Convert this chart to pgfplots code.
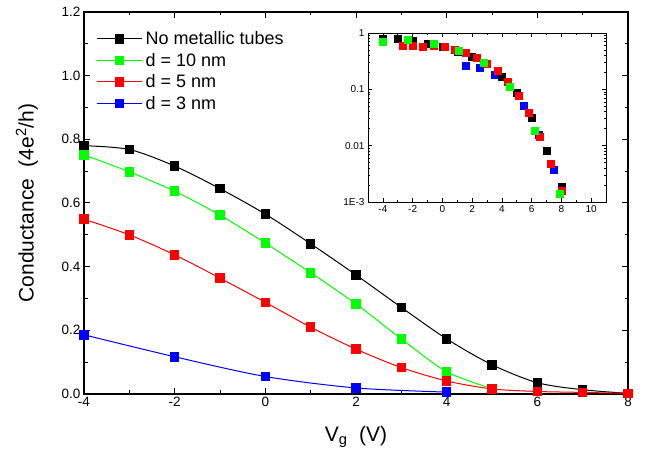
\documentclass[border=0pt]{standalone}
\usepackage{fontspec}
\setmainfont{Liberation Sans}
\usepackage{pgfplots}
\pgfplotsset{compat=1.18}

\begin{document}
\begin{tikzpicture}
\useasboundingbox (0pt,0pt) rectangle (652pt,457pt);
% main panel
\begin{axis}[
  at={(84pt,63pt)}, anchor=south west,
  scale only axis, width=544pt, height=382pt,
  xmin=-4, xmax=8, ymin=0, ymax=1.2,
  xtick={-4,-2,0,2,4,6,8}, minor x tick num=1,
  ytick={0,0.2,0.4,0.6,0.8,1.0,1.2}, minor y tick num=1,
  yticklabel style={/pgf/number format/.cd, fixed, fixed zerofill, precision=1},
  /pgf/number format/assume math mode=true,
  tick label style={font=\fontsize{13.5}{16}\selectfont},
  label style={font=\fontsize{21}{24}\selectfont},
  xlabel={V\textsubscript{g}~~(V)},
  ylabel={Conductance~~(4e\textsuperscript{2}/h)},
  xlabel style={at={(axis description cs:0.5,-0.113)}, anchor=center},
  ylabel style={at={(axis description cs:-0.105,0.5)}, anchor=center},
  axis line style={line width=1.3pt},
  major tick length=6pt, minor tick length=3.5pt,
  every tick/.style={line width=1pt, black},
  legend style={at={(axis description cs:0.021,0.957)}, anchor=north west,
    draw=none, fill=none, font=\fontsize{18}{21}\selectfont,
    row sep=3pt, inner sep=1pt,
    nodes={inner xsep=3pt}},
  legend cell align=left,
  legend image code/.code={\draw[mark repeat=2,mark phase=2,#1]
    plot coordinates {(0pt,0pt) (22.5pt,0pt) (45pt,0pt)};},
  every axis plot/.append style={line width=1pt, smooth,
    mark=square*, mark size=4.3pt, mark options={solid}},
]
\addplot[black] coordinates {
  (-4,0.780) (-3,0.768) (-2,0.716) (-1,0.645) (0,0.565) (1,0.472)
  (2,0.374) (3,0.272) (4,0.173) (5,0.092) (6,0.0355) (7,0.0135) (8,0.002)};
\addlegendentry{No metallic tubes}
\addplot[green] coordinates {
  (-4,0.751) (-3,0.698) (-2,0.637) (-1,0.562) (0,0.474) (1,0.381)
  (2,0.283) (3,0.173) (4,0.070) (5,0.017)};
\addlegendentry{d = 10 nm}
\addplot[red] coordinates {
  (-4,0.549) (-3,0.500) (-2,0.437) (-1,0.364) (0,0.288) (1,0.210)
  (2,0.141) (3,0.083) (4,0.041) (5,0.016) (6,0.008) (7,0.005) (8,0.002)};
\addlegendentry{d = 5 nm}
\addplot[blue] coordinates {
  (-4,0.186) (-2,0.117) (0,0.055) (2,0.019) (4,0.006)};
\addlegendentry{d = 3 nm}
\end{axis}
% inset
\begin{axis}[
  at={(368pt,255pt)}, anchor=south west,
  scale only axis, width=238pt, height=169pt,
  axis background/.style={fill=white},
  xmin=-5, xmax=11, ymode=log, ymin=0.001, ymax=1,
  xtick={-4,-2,0,2,4,6,8,10}, minor x tick num=1,
  ytick={0.001,0.01,0.1,1}, yticklabels={1E-3,0.01,0.1,1},
  minor ytick={0.002,0.003,0.004,0.005,0.006,0.007,0.008,0.009,
    0.02,0.03,0.04,0.05,0.06,0.07,0.08,0.09,
    0.2,0.3,0.4,0.5,0.6,0.7,0.8,0.9},
  /pgf/number format/assume math mode=true,
  tick label style={font=\fontsize{10}{12}\selectfont},
  axis line style={line width=0.8pt},
  major tick length=4pt, minor tick length=2pt,
  every tick/.style={line width=0.6pt, black},
  every axis plot/.append style={only marks, mark=square*, mark size=3.5pt},
]
\addplot[blue] coordinates {
  (1.55,0.26) (2.5,0.24) (3.5,0.185) (5.5,0.052) (6.5,0.0158) (7.5,0.0037)};
\addplot[black] coordinates {
  (-4,0.78) (-3,0.78) (-2,0.73) (-1,0.655) (0,0.57) (1,0.47) (2,0.38)
  (3,0.28) (4,0.17) (5,0.086) (6,0.032) (7,0.008) (8,0.0019)};
\addplot[red] coordinates {
  (-2.7,0.594) (-2.0,0.586) (-1.33,0.57) (-0.6,0.594) (0.13,0.562)
  (0.8,0.497) (1.55,0.446) (2.3,0.367) (3.0,0.287) (3.7,0.21)
  (4.4,0.139) (5.1,0.078) (5.8,0.038) (6.55,0.0145) (7.3,0.0048) (8.0,0.0016)};
\addplot[green] coordinates {
  (-4,0.70) (-2.3,0.75) (-0.6,0.64) (1.1,0.48) (2.8,0.295) (4.5,0.113)
  (6.2,0.0185) (7.9,0.0014)};
\end{axis}
\end{tikzpicture}
\end{document}
